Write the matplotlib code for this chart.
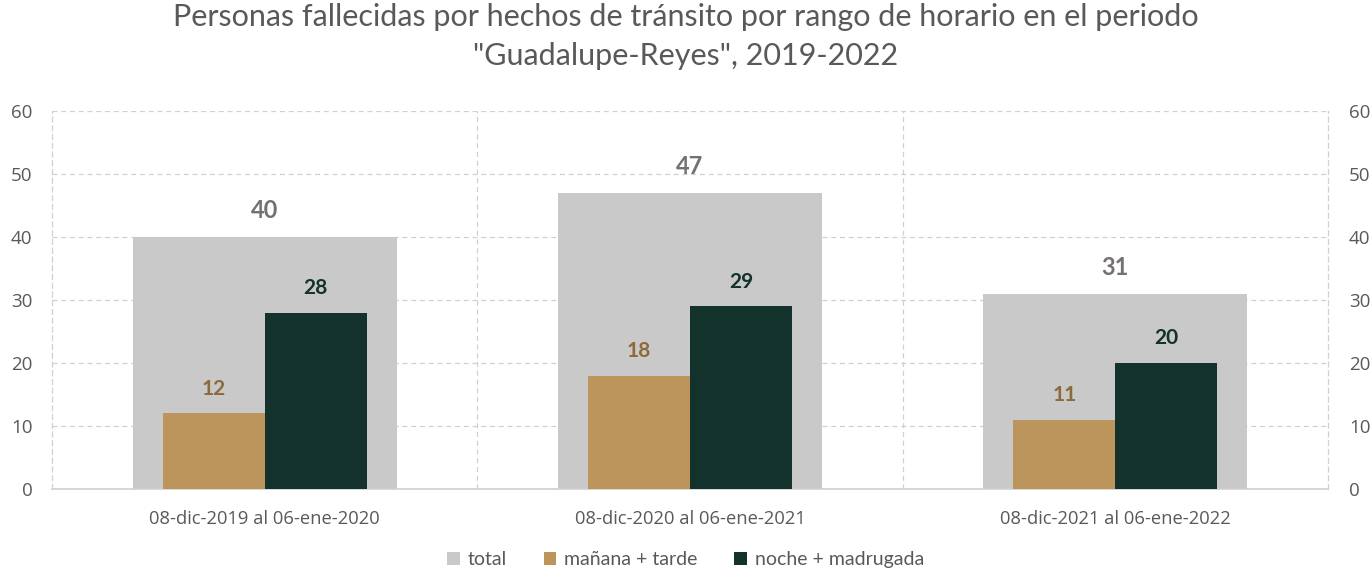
import matplotlib
matplotlib.use("Agg")
import matplotlib.pyplot as plt
import numpy as np

categories = ["08-dic-2019 al 06-ene-2020", "08-dic-2020 al 06-ene-2021", "08-dic-2021 al 06-ene-2022"]
total = [40, 47, 31]
manana_tarde = [12, 18, 11]
noche_madrugada = [28, 29, 20]
series_names = ["total", "mañana + tarde", "noche + madrugada"]
yticks = [0, 10, 20, 30, 40, 50, 60]

c_total = "#C9C9C9"
c_tan = "#BC955C"
c_dark = "#13322B"
c_text = "#595959"

plt.rcParams['font.family'] = ['Lato', 'DejaVu Sans']

fig = plt.figure(figsize=(13.71, 5.73), dpi=100)
ax = fig.add_axes([52/1371, 1-489/573, (1328-52)/1371, (489-111)/573])

x = np.arange(len(categories))
ax.bar(x, total, width=0.62, color=c_total, zorder=2, label=series_names[0])
ax.bar(x - 0.12, manana_tarde, width=0.24, color=c_tan, zorder=3, label=series_names[1])
ax.bar(x + 0.12, noche_madrugada, width=0.24, color=c_dark, zorder=3, label=series_names[2])

for i in range(len(categories)):
    ax.text(x[i], total[i] + 4.2, str(total[i]), ha='center', va='center',
            fontsize=17, fontweight='bold', color="#767171", zorder=4)
    ax.text(x[i] - 0.12, manana_tarde[i] + 3.9, str(manana_tarde[i]), ha='center', va='center',
            fontsize=15, fontweight='bold', color="#8C6A3A", zorder=4)
    ax.text(x[i] + 0.12, noche_madrugada[i] + 3.9, str(noche_madrugada[i]), ha='center', va='center',
            fontsize=15, fontweight='bold', color=c_dark, zorder=4)

ax.set_xlim(-0.5, len(categories) - 0.5)
ax.set_ylim(0, 60)
ax.set_yticks(yticks)
ax.set_xticks(x)
ax.set_xticklabels(categories, fontsize=13.2, color=c_text, fontfamily=['Open Sans', 'DejaVu Sans'])
ax.tick_params(axis='x', length=0, pad=15)
ax.tick_params(axis='y', length=0, pad=14, labelsize=13.5, labelcolor=c_text)
for lab in ax.get_yticklabels():
    lab.set_fontfamily(['Open Sans', 'DejaVu Sans'])

ax.grid(axis='y', linestyle=(0, (4, 3)), color="#D0D0D0", linewidth=0.9, zorder=0)
for b in [0.5, 1.5]:
    ax.axvline(b, linestyle=(0, (4, 3)), color="#D0D0D0", linewidth=0.9, zorder=0)

for s in ['left', 'right']:
    ax.spines[s].set_linestyle((0, (4, 3)))
    ax.spines[s].set_color("#D0D0D0")
    ax.spines[s].set_linewidth(0.9)
ax.spines['top'].set_visible(False)
ax.spines['bottom'].set_color("#D0D0D0")
ax.spines['bottom'].set_linewidth(1.2)

ax2 = ax.twinx()
ax2.set_ylim(0, 60)
ax2.set_yticks(yticks)
ax2.tick_params(axis='y', length=0, pad=15, labelsize=13.5, labelcolor=c_text)
for lab in ax2.get_yticklabels():
    lab.set_fontfamily(['Open Sans', 'DejaVu Sans'])
for s in ax2.spines.values():
    s.set_visible(False)

fig.suptitle('Personas fallecidas por hechos de tránsito por rango de horario en el periodo\n"Guadalupe-Reyes", 2019-2022',
             y=0.995, fontsize=22, color=c_text, linespacing=1.5)

handles, labels = ax.get_legend_handles_labels()
fig.legend(handles, labels, loc='lower center', bbox_to_anchor=(0.5, -0.022), ncol=3, frameon=False,
           fontsize=14, labelcolor=c_text, handlelength=0.65, handleheight=0.65, handletextpad=0.4,
           columnspacing=1.9)

fig.savefig("out.png", dpi=100)
